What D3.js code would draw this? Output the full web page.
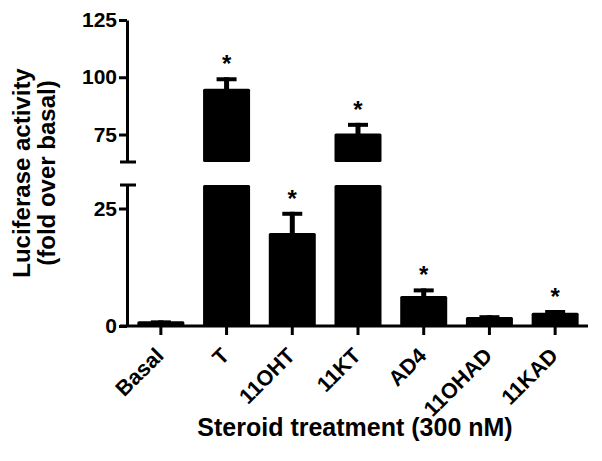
<html>
<head>
<script src="https://d3js.org/d3.v7.min.js"></script>
<style>
body { margin: 0; background: white; }
text { font-family: "Liberation Sans", Arial, sans-serif; font-weight: bold; fill: black; }
</style>
</head>
<body>
<svg width="602" height="461"></svg>
<script>
// data
var categories = ["Basal", "T", "11OHT", "11KT", "AD4", "11OHAD", "11KAD"];
var means = [1.0, 95, 19.8, 75.4, 6.4, 1.9, 2.8];
var sems = [0.2, 5, 4.5, 4.7, 1.6, 0.4, 0.6];
var significant = [false, true, true, true, true, false, true];
var lowTicks = [0, 25];
var highTicks = [75, 100, 125];

var svg = d3.select("svg");
var axisX = 127, baseY = 326;

var x = d3.scalePoint().domain(categories).range([128, 588]).padding(0.5);
var yLow = d3.scaleLinear().domain([0, 30]).range([baseY, 185]);
var yHigh = d3.scaleLinear().domain([63, 125]).range([162, 20]);
var barW = 47;

function yOf(v) { return v > 30 ? yHigh(v) : yLow(v); }

var data = categories.map(function(c, i) {
  return {name: c, mean: means[i], sem: sems[i], sig: significant[i]};
});

// bars (broken bars get two pieces)
var bars = svg.append("g");
data.forEach(function(d) {
  var cx = x(d.name);
  if (d.mean > 30) {
    bars.append("rect").attr("x", cx - barW/2).attr("width", barW)
      .attr("y", yLow(30)).attr("height", baseY - yLow(30)).attr("rx", 1.5);
    bars.append("rect").attr("x", cx - barW/2).attr("width", barW)
      .attr("y", yHigh(d.mean)).attr("height", yHigh(63) - yHigh(d.mean)).attr("rx", 1.5);
  } else {
    bars.append("rect").attr("x", cx - barW/2).attr("width", barW)
      .attr("y", yLow(d.mean)).attr("height", baseY - yLow(d.mean)).attr("rx", 1.5);
  }
});

// error bars (upper only)
var err = svg.append("g").attr("stroke", "black");
data.forEach(function(d) {
  var cx = x(d.name);
  var top = yOf(d.mean + d.sem);
  err.append("line").attr("x1", cx).attr("x2", cx)
    .attr("y1", yOf(d.mean) + 1).attr("y2", top).attr("stroke-width", 5);
  err.append("line").attr("x1", cx - 10).attr("x2", cx + 10)
    .attr("y1", top + 2).attr("y2", top + 2).attr("stroke-width", 4);
  if (d.sig) {
    svg.append("text").attr("x", cx).attr("y", top - 5)
      .attr("text-anchor", "middle").attr("font-size", 24).text("*");
  }
});

// y axes
function styleAxis(g) {
  g.selectAll("path, line").attr("stroke", "black").attr("stroke-width", 3);
  g.selectAll("text").attr("font-size", 21).attr("font-family", null).attr("fill", "black");
}
var gLow = svg.append("g").attr("transform", "translate(" + axisX + ",0)")
  .call(d3.axisLeft(yLow).tickValues(lowTicks).tickSize(8).tickSizeOuter(0).tickPadding(2));
styleAxis(gLow);
var gHigh = svg.append("g").attr("transform", "translate(" + axisX + ",0)")
  .call(d3.axisLeft(yHigh).tickValues(highTicks).tickSize(8).tickSizeOuter(0).tickPadding(2));
styleAxis(gHigh);

// break caps
svg.append("g").selectAll("line").data([yHigh(63), yLow(30)]).enter().append("line")
  .attr("x1", axisX - 7).attr("x2", axisX + 9).attr("y1", function(d) { return d; })
  .attr("y2", function(d) { return d; }).attr("stroke", "black").attr("stroke-width", 3);

// x axis
var gx = svg.append("g").attr("transform", "translate(0," + baseY + ")");
gx.append("line").attr("x1", axisX - 7).attr("x2", 588).attr("stroke", "black").attr("stroke-width", 3);
gx.selectAll(".tk").data(categories).enter().append("line")
  .attr("x1", function(d) { return x(d); }).attr("x2", function(d) { return x(d); })
  .attr("y1", 0).attr("y2", 9).attr("stroke", "black").attr("stroke-width", 3);
gx.selectAll(".lb").data(categories).enter().append("text")
  .attr("text-anchor", "end").attr("font-size", 21.5)
  .attr("transform", function(d) { return "translate(" + (x(d) + 4) + ",31) rotate(-45)"; })
  .text(function(d) { return d; });

// titles
svg.append("text").attr("x", 355).attr("y", 436).attr("text-anchor", "middle")
  .attr("font-size", 25).text("Steroid treatment (300 nM)");
svg.append("text").attr("transform", "translate(30,173) rotate(-90)").attr("text-anchor", "middle")
  .attr("font-size", 24).text("Luciferase activity");
svg.append("text").attr("transform", "translate(55,173) rotate(-90)").attr("text-anchor", "middle")
  .attr("font-size", 24).text("(fold over basal)");
</script>
</body>
</html>
